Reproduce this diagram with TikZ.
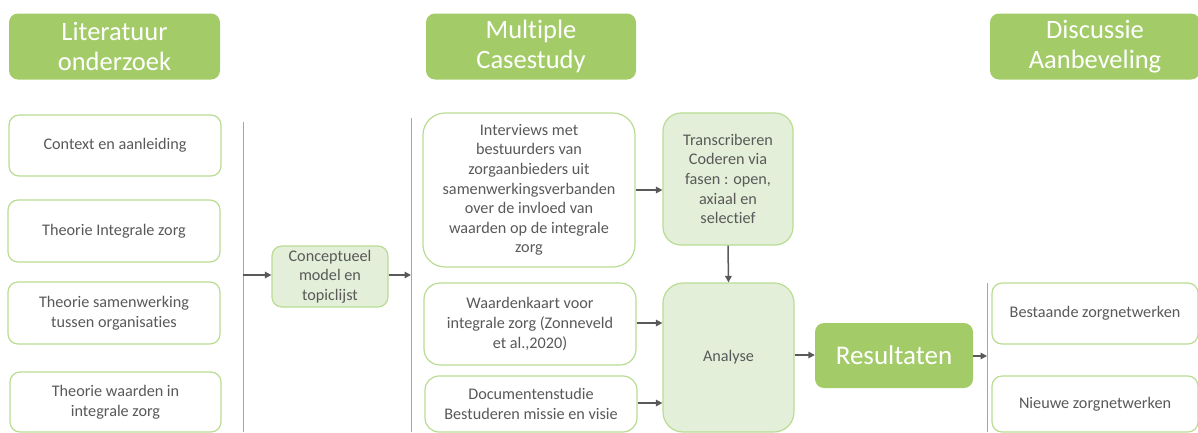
\documentclass[tikz,border=0pt]{standalone}
\usepackage{fontspec}
\setmainfont{Carlito}[Ligatures=NoCommon]
\usetikzlibrary{arrows.meta}
\definecolor{hdrgreen}{HTML}{A3CC68}
\definecolor{edgegreen}{HTML}{B9DC93}
\definecolor{palegreen}{HTML}{E3EFD9}
\definecolor{txtgrey}{HTML}{595959}
\definecolor{rulegrey}{HTML}{A6A6A6}
\definecolor{arrowgrey}{HTML}{595959}
\tikzset{
  x=1pt, y=-1pt,
  header/.style={fill=hdrgreen, draw=none, rounded corners=9pt, text=white,
    font=\fontsize{26.5}{30}\selectfont, align=center, inner sep=0pt},
  whitebox/.style={fill=white, draw=edgegreen, line width=1.2pt, rounded corners=10pt,
    text=txtgrey, font=\fontsize{16.2}{19.6}\selectfont, align=center, inner sep=0pt},
  palebox/.style={whitebox, fill=palegreen},
  resbox/.style={fill=hdrgreen, draw=none, rounded corners=9pt, text=white,
    font=\fontsize{27}{30}\selectfont, inner sep=0pt},
  divider/.style={draw=rulegrey, line width=1pt},
  flow/.style={draw=arrowgrey, line width=1.5pt, -{Triangle[length=6.5pt,width=6.5pt]}},
}
\begin{document}
\begin{tikzpicture}
\useasboundingbox (0,0) rectangle (1198,432);

% column headers
\node[header, minimum width=211pt, minimum height=66pt] (h1) at (114.5,46.5) {Literatuur\\onderzoek};
\node[header, minimum width=210pt, minimum height=66pt] (h2) at (531,46.5) {Multiple\\Casestudy};
\node[header, minimum width=210pt, minimum height=66pt] (h3) at (1095,46.5) {Discussie\\Aanbeveling};

% literature topics
\node[whitebox, minimum width=212pt, minimum height=61pt] (ctx) at (115,145.5) {Context en aanleiding};
\node[whitebox, minimum width=212pt, minimum height=62pt] (tiz) at (114,231) {Theorie Integrale zorg};
\node[whitebox, minimum width=212pt, minimum height=62pt] (tso) at (114,313) {Theorie samenwerking\\tussen organisaties};
\node[whitebox, minimum width=211pt, minimum height=60pt] (twi) at (115.5,402) {Theorie waarden in\\integrale zorg};

% dividers
\coordinate (d1top) at (243,122);
\coordinate (d1bot) at (243,432);
\coordinate (d2top) at (411,118);
\coordinate (d2bot) at (411,432);
\coordinate (d3top) at (987,283);
\coordinate (d3bot) at (987,432);
\draw[divider] (d1top) -- (d1bot);
\draw[divider] (d2top) -- (d2bot);
\draw[divider] (d3top) -- (d3bot);

% conceptual model
\node[palebox, minimum width=116pt, minimum height=61pt] (cm) at (330,276.5) {Conceptueel\\model en\\topiclijst};
\coordinate (d1mid) at (243,275);
\coordinate (d2mid) at (411,275);
\draw[flow] (d1mid) -- (d1mid -| cm.west);
\draw[flow] (cm.east |- d2mid) -- (d2mid);

% case study sources
\node[whitebox, rounded corners=22pt, minimum width=212pt, minimum height=154pt] (int) at (529,190)
  {Interviews met\\bestuurders van\\zorgaanbieders uit\\samenwerkingsverbanden\\over de invloed van\\waarden op de integrale\\zorg};
\node[whitebox, rounded corners=16pt, minimum width=212pt, minimum height=82pt] (wk) at (530,324)
  {Waardenkaart voor\\integrale zorg (Zonneveld\\et al.,2020)};
\node[whitebox, rounded corners=14pt, minimum width=212pt, minimum height=56pt] (doc) at (531,404)
  {Documentenstudie\\Bestuderen missie en visie};

% processing
\node[palebox, rounded corners=18pt, minimum width=130pt, minimum height=132pt] (tr) at (728,179)
  {Transcriberen\\Coderen via\\fasen : open,\\axiaal en\\selectief};
\node[palebox, rounded corners=20pt, minimum width=131pt, minimum height=149pt] (an) at (728.5,357.5) {Analyse};

\draw[flow] (int.east |- 0,190) -- (tr.west |- 0,190);
\draw[flow] (tr.south) -- (an.north);
\draw[flow] (wk.east |- 0,323) -- (an.west |- 0,323);
\draw[flow] (doc.east |- 0,403) -- (an.west |- 0,403);

% results
\node[resbox, minimum width=158pt, minimum height=65pt] (res) at (894,355.5) {Resultaten};
\draw[flow] (an.east |- 0,355) -- (res.west |- 0,355);
\coordinate (d3mid) at (987,356);
\draw[flow] (res.east |- d3mid) -- (d3mid);

% discussion outcomes
\node[whitebox, minimum width=206pt, minimum height=61pt] (bz) at (1095,313.5) {Bestaande zorgnetwerken};
\node[whitebox, minimum width=206pt, minimum height=56pt] (nz) at (1095,404) {Nieuwe zorgnetwerken};
\end{tikzpicture}
\end{document}
